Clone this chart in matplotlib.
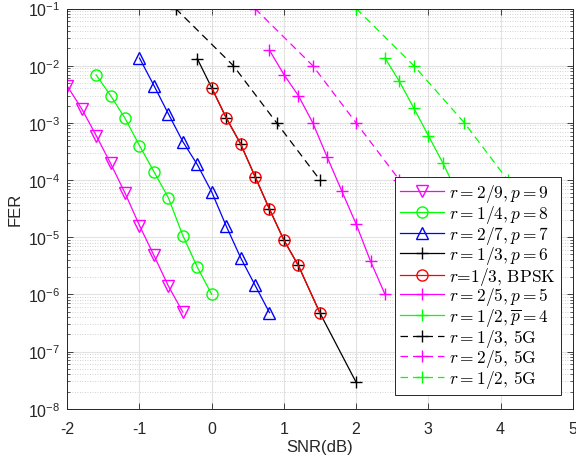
import matplotlib
matplotlib.use('Agg')
import matplotlib.pyplot as plt
from matplotlib.font_manager import FontProperties
from matplotlib.ticker import LogLocator, NullFormatter

plt.rcParams['font.family'] = ['Liberation Sans', 'DejaVu Sans']
plt.rcParams['mathtext.fontset'] = 'custom'
plt.rcParams['mathtext.rm'] = 'Liberation Sans'
plt.rcParams['mathtext.it'] = 'Liberation Sans:italic'
plt.rcParams['mathtext.bf'] = 'Liberation Sans:bold'
plt.rcParams['axes.unicode_minus'] = False

# r=2/9, p=9
snr_29 = [-2.0, -1.8, -1.6, -1.4, -1.2, -1.0, -0.8, -0.6, -0.4]
fer_29 = [4.4e-3, 1.76e-3, 6.0e-4, 1.95e-4, 5.9e-5, 1.6e-5, 4.8e-6, 1.4e-6, 4.9e-7]
# r=1/4, p=8
snr_14 = [-1.6, -1.4, -1.2, -1.0, -0.8, -0.6, -0.4, -0.2, 0.0]
fer_14 = [6.9e-3, 3.0e-3, 1.2e-3, 4.0e-4, 1.4e-4, 4.9e-5, 1.07e-5, 3.0e-6, 1.0e-6]
# r=2/7, p=7
snr_27 = [-1.0, -0.8, -0.6, -0.4, -0.2, 0.0, 0.2, 0.4, 0.6, 0.8]
fer_27 = [1.36e-2, 4.5e-3, 1.44e-3, 4.7e-4, 1.87e-4, 6.2e-5, 1.58e-5, 4.4e-6, 1.45e-6, 4.8e-7]
# r=1/3, p=6
snr_13 = [-0.2, 0.0, 0.2, 0.4, 0.6, 0.8, 1.0, 1.2, 1.5, 2.0]
fer_13 = [1.33e-2, 4.1e-3, 1.23e-3, 4.3e-4, 1.15e-4, 3.1e-5, 8.9e-6, 3.2e-6, 4.7e-7, 2.9e-8]
# r=1/3, BPSK
snr_bpsk = [0.0, 0.2, 0.4, 0.6, 0.8, 1.0, 1.2, 1.5]
fer_bpsk = [4.1e-3, 1.23e-3, 4.3e-4, 1.15e-4, 3.1e-5, 8.9e-6, 3.2e-6, 4.7e-7]
# r=2/5, p=5
snr_25 = [0.8, 1.0, 1.2, 1.4, 1.6, 1.8, 2.0, 2.2, 2.4]
fer_25 = [1.86e-2, 7.0e-3, 3.0e-3, 1.0e-3, 2.5e-4, 6.5e-5, 1.7e-5, 3.8e-6, 1.0e-6]
# r=1/2, pbar=4
snr_12 = [2.4, 2.6, 2.8, 3.0, 3.2, 3.4]
fer_12 = [1.36e-2, 5.3e-3, 1.8e-3, 6.0e-4, 2.0e-4, 6.0e-5]
# 5G references
snr_13_5g = [-0.5, 0.3, 0.9, 1.5]
fer_13_5g = [1e-1, 1e-2, 1e-3, 1e-4]
snr_25_5g = [0.6, 1.4, 2.0, 2.6]
fer_25_5g = [1e-1, 1e-2, 1e-3, 1e-4]
snr_12_5g = [2.0, 2.8, 3.5, 4.1]
fer_12_5g = [1e-1, 1e-2, 1e-3, 1e-4]

x_ticks = [-2, -1, 0, 1, 2, 3, 4, 5]
y_ticks = [1e-8, 1e-7, 1e-6, 1e-5, 1e-4, 1e-3, 1e-2, 1e-1]

fig = plt.figure(figsize=(5.76, 4.64), dpi=100)
ax = fig.add_axes([0.1168, 0.117, 0.8775, 0.8625])

lw = 0.9
dash = (0, (6, 4))
ax.semilogy(snr_29, fer_29, color='#ff00ff', marker='v', ms=8.5, mfc='none', lw=lw, label=r'$r=2/9, p=9$')
ax.semilogy(snr_14, fer_14, color='#00ff00', marker='o', ms=8, mfc='none', lw=lw, label=r'$r=1/4, p=8$')
ax.semilogy(snr_27, fer_27, color='#0000ff', marker='^', ms=8.5, mfc='none', lw=lw, label=r'$r=2/7, p=7$')
ax.semilogy(snr_13, fer_13, color='black', marker='+', ms=9, lw=lw, label=r'$r=1/3, p=6$')
ax.semilogy(snr_bpsk, fer_bpsk, color='#ff0000', marker='o', ms=8, mfc='none', lw=lw, label=r'$r$=1/3, BPSK')
ax.semilogy(snr_25, fer_25, color='#ff00ff', marker='+', ms=9, lw=lw, label=r'$r=2/5, p=5$')
ax.semilogy(snr_12, fer_12, color='#00ff00', marker='+', ms=9, lw=lw, label=r'$r=1/2, \overline{p}=4$')
ax.semilogy(snr_13_5g, fer_13_5g, color='black', marker='+', ms=9, lw=lw, ls=dash, label=r'$r=1/3$, 5G')
ax.semilogy(snr_25_5g, fer_25_5g, color='#ff00ff', marker='+', ms=9, lw=lw, ls=dash, label=r'$r=2/5$, 5G')
ax.semilogy(snr_12_5g, fer_12_5g, color='#00ff00', marker='+', ms=9, lw=lw, ls=dash, label=r'$r=1/2$, 5G')

ax.set_xlim(-2, 5)
ax.set_ylim(1e-8, 1e-1)
ax.set_xticks(x_ticks)
ax.set_yticks(y_ticks)
ax.yaxis.set_minor_locator(LogLocator(base=10, subs=range(2, 10), numticks=20))
ax.yaxis.set_minor_formatter(NullFormatter())

ax.grid(True, which='major', color='#e2e2e2', lw=0.8, ls='-')
ax.grid(True, which='minor', axis='y', color='#c4c4c4', lw=0.6, ls=(0, (1, 2)))
ax.set_axisbelow(True)

ax.tick_params(which='both', direction='in', top=True, right=True, colors='#262626', labelsize=11.5)
ax.tick_params(which='major', length=4, width=0.6)
ax.tick_params(which='minor', length=2.5, width=0.5)
ax.tick_params(axis='x', which='major', pad=8.5)
ax.tick_params(axis='y', which='major', pad=5)
for s in ax.spines.values():
    s.set_color('#262626')
    s.set_linewidth(0.7)

ax.set_xlabel('SNR(dB)', fontsize=12, color='#262626', labelpad=2.5)
ax.set_ylabel('FER', fontsize=12, color='#262626')

leg_font = FontProperties(family='cmr10', size=12.5, math_fontfamily='cm')
leg = ax.legend(loc='lower right', bbox_to_anchor=(0.976, 0.034), borderaxespad=0,
                prop=leg_font, handlelength=2.5, labelspacing=-0.08, handletextpad=0.3,
                borderpad=0.3, fancybox=False, framealpha=1, edgecolor='#262626')
leg.get_frame().set_linewidth(0.7)

plt.savefig('out.png', dpi=100)
